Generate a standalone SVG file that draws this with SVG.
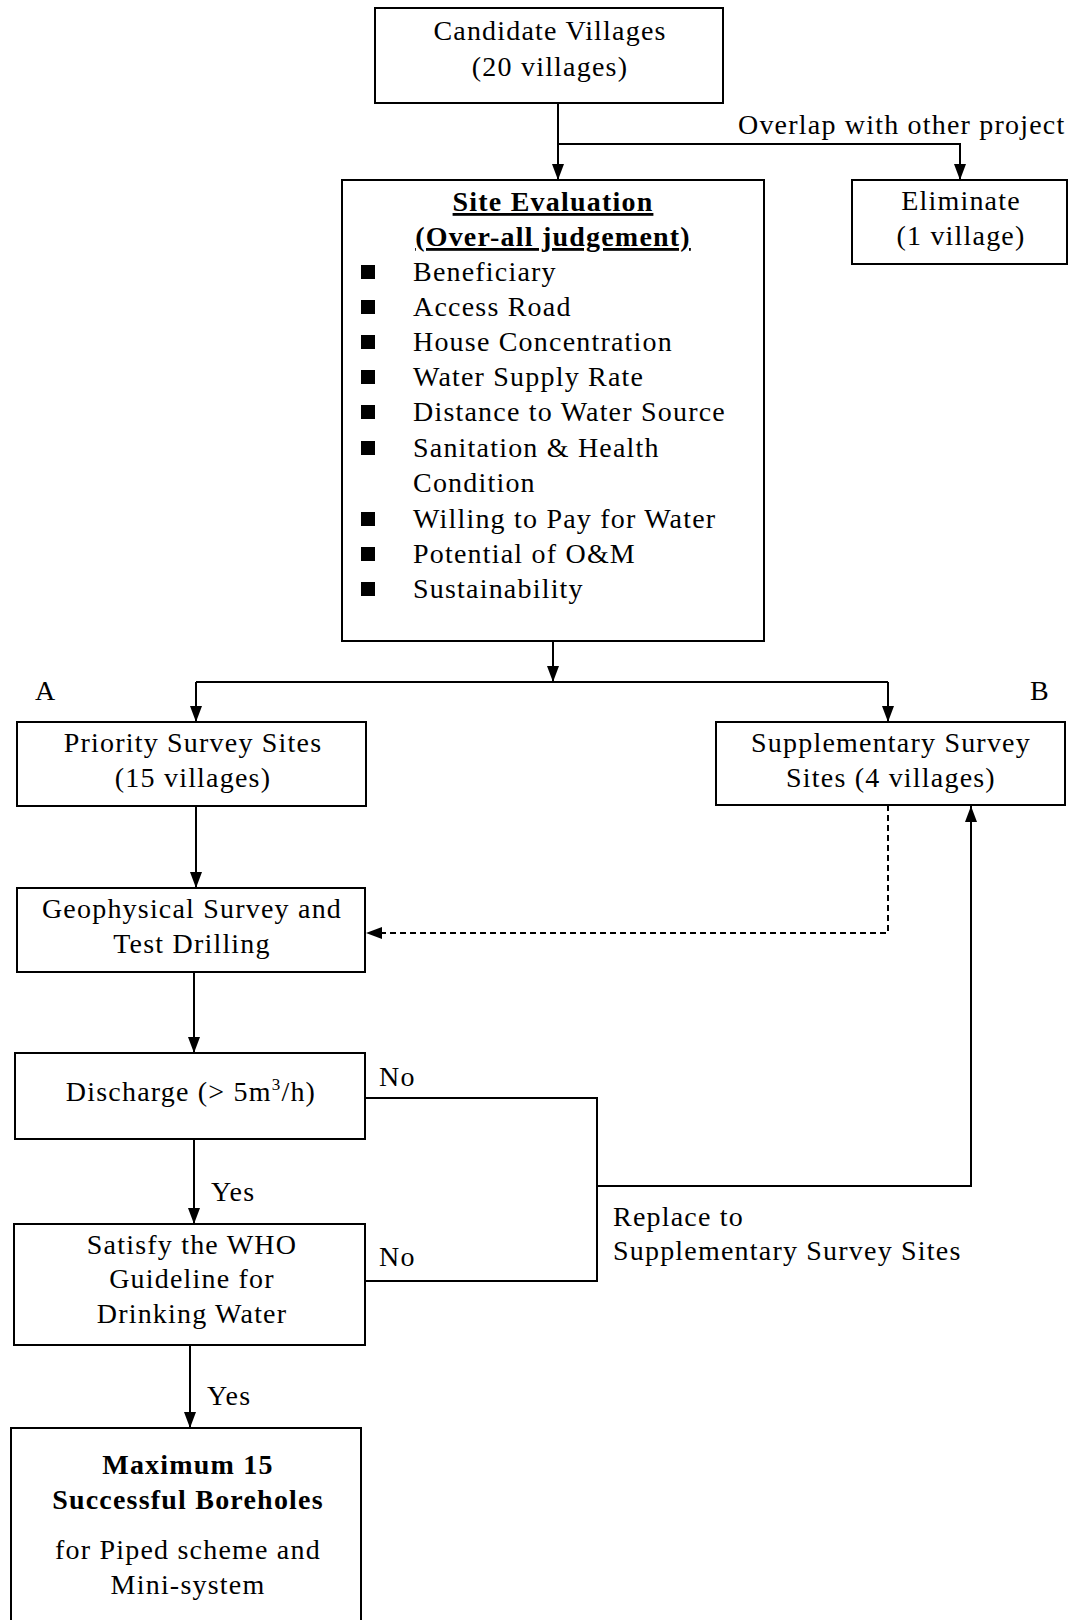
<svg xmlns="http://www.w3.org/2000/svg" width="1071" height="1620" viewBox="0 0 1071 1620">
<style>
.box{fill:#fff;stroke:#000;stroke-width:2}
.t{font-family:"Liberation Serif","Times New Roman",serif;font-size:28px;letter-spacing:1.2px;fill:#000}
.c{text-anchor:middle}
.b{font-weight:bold}
.u{text-decoration:underline}
.ln{fill:none;stroke:#000;stroke-width:2}
.dash{fill:none;stroke:#000;stroke-width:2;stroke-dasharray:6 4}
.sq{fill:#000}
</style>
<defs>
<marker id="ah" viewBox="0 0 16 12" refX="16" refY="6" markerWidth="16" markerHeight="12" markerUnits="userSpaceOnUse" orient="auto">
<path d="M0,0 L16,6 L0,12 z" fill="#000"/>
</marker>
</defs>
<rect width="1071" height="1620" fill="#fff"/>

<g id="connectors">
<line class="ln" x1="558" y1="103" x2="558" y2="180" marker-end="url(#ah)"/>
<path class="ln" d="M558,144 H960 V180" marker-end="url(#ah)"/>
<line class="ln" x1="553" y1="641" x2="553" y2="682" marker-end="url(#ah)"/>
<path class="ln" d="M196,682 H888"/>
<path class="ln" d="M196,682 V722" marker-end="url(#ah)"/>
<path class="ln" d="M888,682 V722" marker-end="url(#ah)"/>
<line class="ln" x1="196" y1="806" x2="196" y2="888" marker-end="url(#ah)"/>
<path class="dash" d="M888,805 V933 H366" marker-end="url(#ah)"/>
<line class="ln" x1="194" y1="972" x2="194" y2="1053" marker-end="url(#ah)"/>
<path class="ln" d="M365,1098 H597 V1281 H365"/>
<path class="ln" d="M597,1186 H971 V806" marker-end="url(#ah)"/>
<line class="ln" x1="194" y1="1139" x2="194" y2="1224" marker-end="url(#ah)"/>
<line class="ln" x1="190" y1="1345" x2="190" y2="1428" marker-end="url(#ah)"/>
<text class="t" x="738" y="134">Overlap with other project</text>
<text class="t" x="35" y="700">A</text>
<text class="t" x="1030" y="700">B</text>
<text class="t" x="379" y="1086">No</text>
<text class="t" x="379" y="1266">No</text>
<text class="t" x="211" y="1201">Yes</text>
<text class="t" x="207" y="1405">Yes</text>
<text class="t" x="613" y="1226">Replace to</text>
<text class="t" x="613" y="1260">Supplementary Survey Sites</text>
</g>

<g id="candidate">
<rect class="box" x="375" y="8" width="348" height="95"/>
<text class="t c" x="550" y="40">Candidate Villages</text>
<text class="t c" x="550" y="76">(20 villages)</text>
</g>

<g id="eliminate">
<rect class="box" x="852" y="180" width="215" height="84"/>
<text class="t c" x="961" y="210">Eliminate</text>
<text class="t c" x="961" y="245">(1 village)</text>
</g>

<g id="site-evaluation">
<rect class="box" x="342" y="180" width="422" height="461"/>
<text class="t c b u" x="553" y="211">Site Evaluation</text>
<text class="t c b u" x="553" y="246">(Over-all judgement)</text>
<rect class="sq" x="361" y="265" width="14" height="14"/>
<text class="t" x="413" y="281">Beneficiary</text>
<rect class="sq" x="361" y="300" width="14" height="14"/>
<text class="t" x="413" y="316">Access Road</text>
<rect class="sq" x="361" y="335" width="14" height="14"/>
<text class="t" x="413" y="351">House Concentration</text>
<rect class="sq" x="361" y="370" width="14" height="14"/>
<text class="t" x="413" y="386">Water Supply Rate</text>
<rect class="sq" x="361" y="405" width="14" height="14"/>
<text class="t" x="413" y="421">Distance to Water Source</text>
<rect class="sq" x="361" y="441" width="14" height="14"/>
<text class="t" x="413" y="457">Sanitation &amp; Health</text>
<text class="t" x="413" y="492">Condition</text>
<rect class="sq" x="361" y="512" width="14" height="14"/>
<text class="t" x="413" y="528">Willing to Pay for Water</text>
<rect class="sq" x="361" y="547" width="14" height="14"/>
<text class="t" x="413" y="563">Potential of O&amp;M</text>
<rect class="sq" x="361" y="582" width="14" height="14"/>
<text class="t" x="413" y="598">Sustainability</text>
</g>

<g id="priority">
<rect class="box" x="17" y="722" width="349" height="84"/>
<text class="t c" x="193" y="752">Priority Survey Sites</text>
<text class="t c" x="193" y="787">(15 villages)</text>
</g>

<g id="supplementary">
<rect class="box" x="716" y="722" width="349" height="83"/>
<text class="t c" x="891" y="752">Supplementary Survey</text>
<text class="t c" x="891" y="787">Sites (4 villages)</text>
</g>

<g id="geophysical">
<rect class="box" x="17" y="888" width="348" height="84"/>
<text class="t c" x="192" y="918">Geophysical Survey and</text>
<text class="t c" x="192" y="953">Test Drilling</text>
</g>

<g id="discharge">
<rect class="box" x="15" y="1053" width="350" height="86"/>
<text class="t c" x="191" y="1101">Discharge (&gt; 5m<tspan font-size="17" dy="-11">3</tspan><tspan dy="11">/h)</tspan></text>
</g>

<g id="satisfy">
<rect class="box" x="14" y="1224" width="351" height="121"/>
<text class="t c" x="192" y="1254">Satisfy the WHO</text>
<text class="t c" x="192" y="1288">Guideline for</text>
<text class="t c" x="192" y="1323">Drinking Water</text>
</g>

<g id="maximum">
<rect class="box" x="11" y="1428" width="350" height="210"/>
<text class="t c b" x="188" y="1474">Maximum 15</text>
<text class="t c b" x="188" y="1509">Successful Boreholes</text>
<text class="t c" x="188" y="1559">for Piped scheme and</text>
<text class="t c" x="188" y="1594">Mini-system</text>
</g>
</svg>
